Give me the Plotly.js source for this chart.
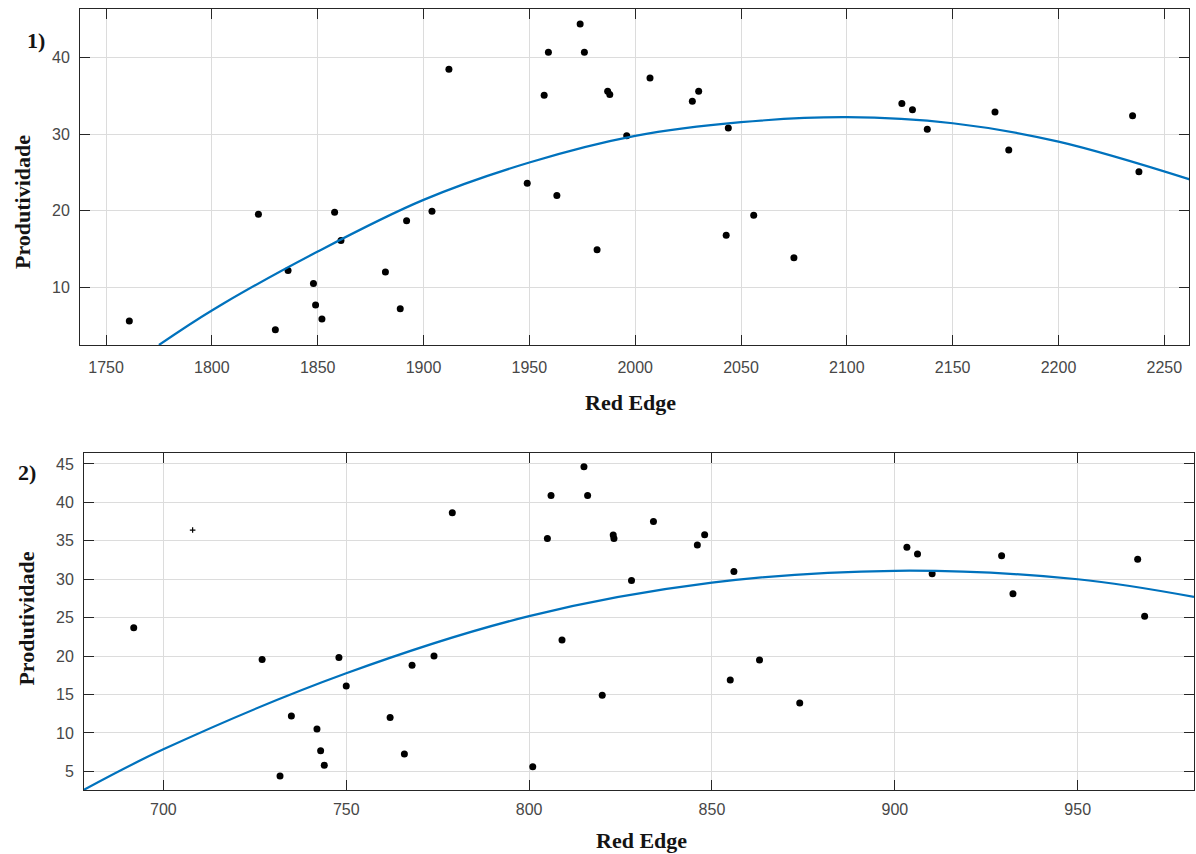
<!DOCTYPE html>
<html>
<head>
<meta charset="utf-8">
<script src="https://cdn.plot.ly/plotly-3.0.1.min.js"></script>
<style>html,body{margin:0;padding:0;background:#fff;}#chart{width:1196px;height:854px;}</style>
</head>
<body>
<div id="chart"></div>
<script>
// Panel 1 data
const x1 = [1761,1822,1830,1836,1848,1849,1852,1858,1861,1882,1889,1892,1904,1912,1949,1957,1959,1963,1974,1976,1982,1987,1988,1996,2007,2027,2030,2043,2044,2056,2075,2126,2131,2138,2170,2176.5,2235,2238];
const y1 = [5.6,19.55,4.45,12.2,10.5,7.7,5.85,19.8,16.1,12.0,7.2,18.7,19.95,38.5,23.6,35.1,40.7,22.0,44.4,40.7,14.9,35.6,35.2,29.8,37.35,34.3,35.6,16.8,30.8,19.4,13.85,34.0,33.2,30.65,32.9,27.95,32.4,25.1];
// Panel 1 fitted curve
const fitX1 = [1775,1800,1850,1900,1950,2000,2050,2100,2150,2200,2262];
const fitY1 = [2.46,6.97,14.67,21.42,26.3,29.78,31.57,32.22,31.43,29.03,24.1];

// Panel 2 data
const x2 = [691.9,727,731.9,735,742,743,744,748,750,762,765.9,768,774,779,801,805,806,809,815,816,820,823,823.2,828,834,846,848,855,856,863,874,903.3,906.2,910.2,929.2,932.3,966.4,968.3];
const y2 = [23.7,19.57,4.4,12.2,10.5,7.67,5.8,19.8,16.1,12.0,7.24,18.8,20.0,38.66,5.6,35.3,40.9,22.1,44.65,40.9,14.9,35.75,35.3,29.85,37.5,34.45,35.8,16.9,31.0,19.5,13.9,34.15,33.3,30.7,33.07,28.1,32.6,25.2];
const x2b = [708];
const y2b = [36.4];
// Panel 2 fitted curve
const fitX2 = [678.3,700,750,800,850,900,950,981.8];
const fitY2 = [2.6,7.86,17.76,25.2,29.55,31.1,30.0,27.7];

// Labels
const panelLabels = ['1)', '2)'];
const xTitle = 'Red Edge';
const yTitle = 'Produtividade';

const W = 1196, H = 854;
const px = v => v / W;
const py = v => 1 - v / H;

const dotColor = '#000000';
const lineColor = '#0072BD';

const traces = [
  {x: x1, y: y1, type: 'scatter', mode: 'markers', xaxis: 'x', yaxis: 'y',
   marker: {color: dotColor, size: 7}},
  {x: fitX1, y: fitY1, type: 'scatter', mode: 'lines', xaxis: 'x', yaxis: 'y',
   line: {color: lineColor, width: 2.2, shape: 'spline', smoothing: 1}},
  {x: x2, y: y2, type: 'scatter', mode: 'markers', xaxis: 'x2', yaxis: 'y2',
   marker: {color: dotColor, size: 7}},
  {x: x2b, y: y2b, type: 'scatter', mode: 'markers', xaxis: 'x2', yaxis: 'y2',
   marker: {color: dotColor, size: 4, symbol: 'cross-thin', line: {color: dotColor, width: 1.2}}},
  {x: fitX2, y: fitY2, type: 'scatter', mode: 'lines', xaxis: 'x2', yaxis: 'y2',
   line: {color: lineColor, width: 2.2, shape: 'spline', smoothing: 1}}
];

const tickFont = {family: 'Liberation Sans, Arial, sans-serif', size: 16, color: '#474747'};
const axisCommon = {
  showline: true, linecolor: '#262626', linewidth: 1, mirror: 'ticks',
  ticks: 'inside', tickcolor: '#262626', ticklen: 10, tickwidth: 1,
  showgrid: true, gridcolor: '#dcdcdc', gridwidth: 1,
  zeroline: false, tickfont: tickFont, fixedrange: true
};

const titleFont = {family: 'Liberation Serif, Times New Roman, serif', size: 22, color: '#141414'};
const ann = (text, x, y, angle) => ({
  text: '<b>' + text + '</b>', xref: 'paper', yref: 'paper', x: px(x), y: py(y),
  xanchor: 'center', yanchor: 'middle', showarrow: false, textangle: angle || 0, font: titleFont
});

const layout = {
  width: W, height: H, autosize: false,
  margin: {l: 0, r: 0, t: 0, b: 0, pad: 0},
  paper_bgcolor: '#ffffff', plot_bgcolor: '#ffffff',
  showlegend: false,
  xaxis: Object.assign({}, axisCommon, {
    domain: [px(80), px(1189.3)], range: [1737.7, 2261.8], dtick: 50, tick0: 1750,
    anchor: 'y', ticklabelstandoff: 8
  }),
  yaxis: Object.assign({}, axisCommon, {
    domain: [py(345), py(9.3)], range: [2.46, 46.32], dtick: 10, tick0: 0,
    anchor: 'x', ticklabelstandoff: 6
  }),
  xaxis2: Object.assign({}, axisCommon, {
    domain: [px(84), px(1194)], range: [678.3, 981.8], dtick: 50, tick0: 700,
    anchor: 'y2', ticklabelstandoff: 5
  }),
  yaxis2: Object.assign({}, axisCommon, {
    domain: [py(790), py(452.7)], range: [2.57, 46.47], dtick: 5, tick0: 0,
    anchor: 'x2', ticklabelstandoff: 6
  }),
  annotations: [
    ann(panelLabels[0], 36, 40),
    ann(panelLabels[1], 27, 473),
    ann(xTitle, 630, 402.5),
    ann(xTitle, 641, 840.8),
    ann(yTitle, 22.5, 202.5, -90),
    ann(yTitle, 25.6, 619, -90)
  ]
};

Plotly.newPlot('chart', traces, layout, {displayModeBar: false, staticPlot: true});
</script>
</body>
</html>
